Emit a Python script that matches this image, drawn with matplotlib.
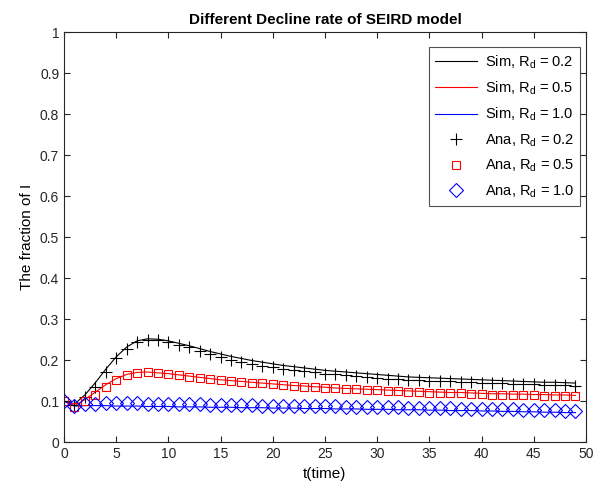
import numpy as np
import matplotlib
matplotlib.use('Agg')
import matplotlib.pyplot as plt

plt.rcParams['font.family'] = ['Liberation Sans', 'DejaVu Sans']
plt.rcParams['mathtext.fontset'] = 'custom'
plt.rcParams['mathtext.rm'] = 'Liberation Sans'
plt.rcParams['mathtext.it'] = 'Liberation Sans'

t = np.arange(50)

# simulated curves, fraction of I for each decline rate
sim_02 = [0.100, 0.093, 0.115, 0.145, 0.178, 0.208, 0.232, 0.247, 0.252, 0.251,
          0.247, 0.241, 0.235, 0.228, 0.221, 0.215, 0.209, 0.204, 0.199, 0.195,
          0.191, 0.187, 0.184, 0.181, 0.178, 0.175, 0.173, 0.171, 0.169, 0.167,
          0.165, 0.163, 0.161, 0.159, 0.158, 0.157, 0.156, 0.155, 0.154, 0.153,
          0.152, 0.151, 0.150, 0.149, 0.148, 0.147, 0.146, 0.146, 0.145, 0.144]
sim_05 = [0.100, 0.088, 0.104, 0.122, 0.140, 0.155, 0.165, 0.170, 0.171, 0.169,
          0.167, 0.164, 0.161, 0.158, 0.155, 0.152, 0.150, 0.148, 0.146, 0.144,
          0.142, 0.140, 0.138, 0.137, 0.135, 0.134, 0.132, 0.131, 0.130, 0.129,
          0.128, 0.127, 0.126, 0.125, 0.124, 0.123, 0.122, 0.121, 0.121, 0.120,
          0.119, 0.118, 0.118, 0.117, 0.117, 0.116, 0.116, 0.115, 0.115, 0.114]
sim_10 = [0.100, 0.088, 0.089, 0.089, 0.089, 0.088, 0.088, 0.088, 0.087, 0.087,
          0.087, 0.086, 0.086, 0.086, 0.085, 0.085, 0.085, 0.084, 0.084, 0.084,
          0.083, 0.083, 0.083, 0.082, 0.082, 0.082, 0.081, 0.081, 0.081, 0.080,
          0.080, 0.080, 0.079, 0.079, 0.079, 0.078, 0.078, 0.077, 0.077, 0.077,
          0.076, 0.076, 0.075, 0.075, 0.074, 0.074, 0.073, 0.073, 0.072, 0.072]

# analytic values at integer times
ana_02 = [0.100, 0.090, 0.110, 0.135, 0.171, 0.204, 0.228, 0.245, 0.250, 0.248,
          0.245, 0.238, 0.231, 0.222, 0.214, 0.207, 0.201, 0.195, 0.190, 0.186,
          0.183, 0.179, 0.176, 0.173, 0.170, 0.167, 0.165, 0.163, 0.161, 0.159,
          0.157, 0.155, 0.154, 0.152, 0.151, 0.150, 0.149, 0.148, 0.147, 0.146,
          0.145, 0.144, 0.143, 0.142, 0.141, 0.141, 0.140, 0.139, 0.139, 0.138]
ana_05 = [0.100, 0.085, 0.100, 0.116, 0.135, 0.152, 0.163, 0.169, 0.170, 0.169,
          0.166, 0.163, 0.160, 0.157, 0.154, 0.151, 0.149, 0.147, 0.145, 0.143,
          0.141, 0.139, 0.137, 0.135, 0.134, 0.132, 0.131, 0.130, 0.129, 0.128,
          0.126, 0.125, 0.124, 0.123, 0.122, 0.121, 0.120, 0.119, 0.119, 0.118,
          0.117, 0.116, 0.116, 0.115, 0.114, 0.114, 0.113, 0.113, 0.112, 0.112]
ana_10 = [0.100, 0.089, 0.092, 0.094, 0.095, 0.095, 0.095, 0.095, 0.094, 0.094,
          0.093, 0.093, 0.092, 0.092, 0.091, 0.091, 0.090, 0.090, 0.090, 0.089,
          0.089, 0.088, 0.088, 0.088, 0.087, 0.087, 0.087, 0.086, 0.086, 0.086,
          0.085, 0.085, 0.085, 0.084, 0.084, 0.083, 0.083, 0.083, 0.082, 0.082,
          0.081, 0.081, 0.080, 0.080, 0.079, 0.079, 0.078, 0.078, 0.077, 0.077]

fig = plt.figure(figsize=(5.93, 4.94), dpi=100)
ax = fig.add_axes([0.108, 0.105, 0.880, 0.830])

ax.plot(t, sim_02, color='k', lw=0.8, label=r'Sim, R$_\mathrm{d}$ = 0.2')
ax.plot(t, sim_05, color='r', lw=0.8, label=r'Sim, R$_\mathrm{d}$ = 0.5')
ax.plot(t, sim_10, color='b', lw=0.8, label=r'Sim, R$_\mathrm{d}$ = 1.0')
ax.plot(t, ana_02, 'k+', ms=9, mew=0.8, label=r'Ana, R$_\mathrm{d}$ = 0.2')
ax.plot(t, ana_05, 's', color='r', ms=5.5, mew=0.8, mfc='none', label=r'Ana, R$_\mathrm{d}$ = 0.5')
ax.plot(t, ana_10, 'D', color='b', ms=7.5, mew=0.8, mfc='none', label=r'Ana, R$_\mathrm{d}$ = 1.0')

ax.set_xlim(0, 50)
ax.set_ylim(0, 1)
ax.set_xticks(np.arange(0, 51, 5))
ax.set_yticks(np.arange(0, 1.01, 0.1))
ax.set_yticklabels(['0', '0.1', '0.2', '0.3', '0.4', '0.5', '0.6', '0.7', '0.8', '0.9', '1'])
ax.tick_params(direction='in', top=True, right=True, labelsize=10, colors='0.15', length=4)
for s in ax.spines.values():
    s.set_color('0.15')
    s.set_linewidth(0.8)

ax.set_xlabel('t(time)', fontsize=11)
ax.set_ylabel('The fraction of I', fontsize=11)
ax.set_title('Different Decline rate of SEIRD model', fontsize=11, fontweight='bold')

leg = ax.legend(loc='upper right', bbox_to_anchor=(0.9885, 0.963), borderaxespad=0,
                fontsize=10.5, fancybox=False, edgecolor='0.15',
                handlelength=2.9, handletextpad=0.5, labelspacing=0.62)
leg.get_frame().set_linewidth(0.8)

fig.savefig('out.png', dpi=100)
